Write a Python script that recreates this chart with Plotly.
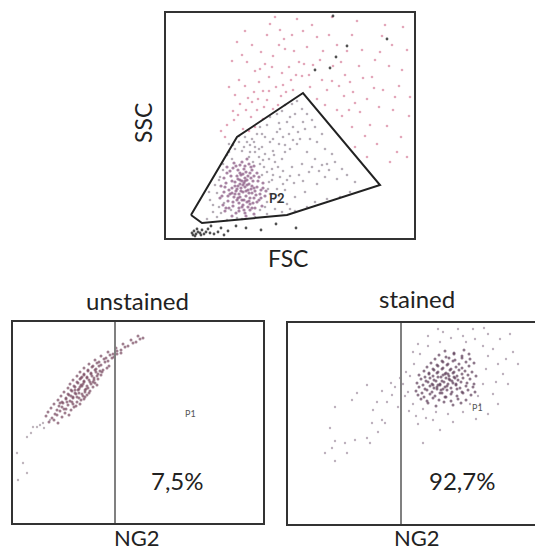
import plotly.graph_objects as go

# ---------------- data (panel units) ----------------
# Top panel: FSC vs SSC
gate_x = [25, 71, 137, 214, 121, 36, 25]
gate_y = [23, 101, 145, 53, 23, 15, 23]

core_top = [(77,46),(75,50),(80,42),(73,44),(82,48),(78,55),(72,52),(84,40),(76,38),(79,60),(70,47),(86,45),(74,58),(81,36),(68,41),(83,54),(77,33),(71,38),(88,50),(75,63),(80,66),(66,50),(85,60),(73,30),(90,43),(78,28),(69,56),(87,35),(64,44),(82,62),
            (62,37),(60,55),(58,46),(65,62),(67,70),(72,68),(79,72),(86,68),(92,57),(95,48),(93,38),(89,30),(84,28),(70,25),(63,30),(57,33),(55,52),(61,65),(68,75),(76,76),(83,74),(91,65),(97,55),(99,42),(96,32),(88,24),(80,22),(66,22),(59,27),(54,40),
            (74,41),(79,51),(76,57),(83,45),(71,49),(81,58),(86,52),(73,35),(78,38),(69,44),(84,34),(75,47),(80,47),(77,53),(72,59),(87,57),(67,36),(82,31),(74,65),(89,47),
            (63,48),(66,57),(71,62),(77,64),(84,65),(88,62),(91,51),(94,44),(91,36),(86,30),(79,25),(73,27),(67,32),(62,42),(59,51),(64,67),(70,72),(78,69),(85,71),(93,61),
            (97,50),(95,40),(58,60),(61,71),(74,73),(81,79),(88,72),(100,47),(56,42),(60,30),(76,31),(83,37),(69,52),(74,54),(85,49),(79,57),(72,40),(66,45),(88,40),(81,53)]
top_core_x = [p[0] for p in core_top]
top_core_y = [p[1] for p in core_top]

gate_pts = [(44,38),(49,53),(53,31),(47,26),(57,68),(61,83),(63,94),(69,89),(76,87),(81,96),(86,99),(91,104),(94,111),(101,113),(104,121),(111,124),(116,127),(119,133),(126,134),(131,137),
            (99,101),(96,91),(104,96),(111,106),(114,109),(121,116),(124,121),(129,124),(136,129),(141,124),(146,118),(149,111),(156,104),(139,109),(134,99),(131,94),(124,89),(119,86),(116,79),(109,76),
            (106,69),(101,66),(94,74),(99,84),(107,87),(113,94),(117,101),(123,104),(127,111),(144,99),(151,96),(159,89),(166,84),(169,76),(176,69),(161,74),(149,79),(141,86),(136,74),(126,71),
            (114,61),(111,49),(104,44),(101,36),(109,29),(121,34),(129,41),(139,46),(151,54),(159,61),(171,59),(181,63),(189,56),(184,46),(174,41),(161,39),(149,36),(141,31),(129,27),(116,26),
            (101,24),(89,21),(76,19),(61,18),(51,21),(41,19),(54,61),(66,79),(84,86),(93,81),(87,76),(96,63),(103,56),(107,63),(117,67),(98,71),(89,91),(83,81),
            (51,45),(53,58),(57,74),(63,86),(67,93),(73,96),(78,91),(84,93),(89,86),(93,89),(97,78),(103,79),(108,83),(112,71),(106,58),(102,49),(108,39),(113,42),(117,54),(121,58),
            (119,48),(124,62),(128,55),(133,63),(137,57),(143,66),(146,71),(153,67),(156,73),(163,68),(107,99),(113,115),(96,104),(88,96),(79,101),(73,102),(127,98),(132,106),(137,116),(119,93),
            (58,35),(47,33),(43,46),(55,25),(65,28),(71,20),(94,28),(99,31),(112,36),(124,29)]
top_gate_x = [p[0] for p in gate_pts]
top_gate_y = [p[1] for p in gate_pts]

pink_pts = [(61,113),(67,127),(69,143),(63,151),(73,158),(66,177),(76,183),(71,196),(79,207),(86,193),(81,176),(89,167),(79,152),(74,134),(85,121),(91,128),(97,147),(93,156),(99,174),(95,186),
            (101,203),(104,214),(109,221),(113,193),(107,182),(103,161),(101,138),(97,119),(107,129),(115,142),(117,153),(123,171),(119,189),(126,203),(131,219),(127,148),(136,162),(133,176),(141,191),(137,207),
            (146,213),(151,201),(147,173),(143,163),(156,158),(157,187),(163,203),(166,221),(171,193),(167,172),(161,148),(173,152),(179,163),(181,187),(186,203),(191,217),(196,188),(193,172),(187,146),(183,128),
            (176,122),(186,111),(194,126),(201,139),(206,161),(209,178),(216,202),(219,213),(226,193),(223,172),(217,148),(213,131),(204,113),(199,102),(211,94),(221,112),(227,128),(233,152),(236,168),(241,188),
            (237,211),(243,122),(235,101),(231,86),(224,76),(241,81),(244,141),(151,139),(144,151),(159,133),(171,128),(201,81),(189,91),(83,107),(89,111),(77,109),(114,208),(59,101),(55,107),
            (68,118),(72,123),(80,128),(86,136),(92,139),(98,131),(103,147),(110,151),(112,133),(120,146),(125,158),(130,163),(88,146),(82,140),(94,169),(106,171),(116,165),(138,174),(118,199),(128,187),
            (154,178),(175,176),(184,156),(197,160),(208,150),(214,186),(229,141),(189,135),(178,142),(166,157)]
top_pink_x = [p[0] for p in pink_pts]
top_pink_y = [p[1] for p in pink_pts]

dark_pts = [(221,199),(170,181),(149,168),(164,170),(181,192),(167,222),
            (26,5),(28,7),(30,4),(32,6),(27,3),(34,5),(36,8),(38,4),(40,6),(31,9),(29,2),(35,3),(44,5),(48,4),(52,6),(58,3),(62,7),(42,9),(45,12),(55,10),(70,12),(80,10),(95,8),(110,14),(130,10)]
top_dark_x = [p[0] for p in dark_pts]
top_dark_y = [p[1] for p in dark_pts]

# Bottom-left panel: unstained
uns_pts = [(36,101),(41,103),(45,100),
           (33,107),(39,105),(44,108),(49,106),
           (35,111),(42,109),(47,112),(52,110),(56,108),
           (38,115),(44,113),(49,116),(53,114),(58,113),(61,116),
           (41,119),(46,117),(50,120),(55,118),(59,121),(63,117),(67,119),
           (45,123),(49,121),(53,124),(57,122),(60,125),(64,121),(68,123),(71,124),
           (48,127),(53,125),(56,128),(60,126),(63,129),(66,125),(70,127),(74,128),
           (51,131),(55,129),(59,132),(62,130),(65,133),(69,129),(72,131),(77,132),
           (55,135),(58,133),(62,136),(66,134),(69,137),(72,133),(75,135),(80,136),
           (57,139),(61,137),(65,140),(68,138),(71,141),(74,137),(78,139),(82,140),
           (60,143),(64,141),(67,144),(71,142),(74,145),(77,141),(81,143),(85,144),
           (64,147),(68,145),(71,148),(74,146),(78,149),(81,145),(84,147),(88,148),
           (67,151),(71,149),(75,152),(78,150),(82,153),(85,149),(89,151),
           (71,155),(75,153),(79,156),(83,154),(86,157),(90,153),(94,155),
           (76,159),(80,157),(84,160),(88,158),(92,161),(96,157),
           (82,163),(86,161),(91,164),(95,162),(99,165),
           (88,167),(93,165),(97,168),(101,166),(104,169),
           (95,171),(100,169),(104,172),(108,170),
           (103,175),(108,173),(112,176),
           (110,179),(115,177),(120,180),
           (118,183),(123,181),(127,184),
           (125,187),(130,185),
           (58,127),(62,133),(66,130),(70,139),(73,134),(76,143),(79,147),(83,151),(87,152),(67,136),(64,126),(60,119),(54,121),(51,114),(47,120),(72,126),(76,130),(80,141),(84,138),(69,146)]
uns_x = [p[0] for p in uns_pts]
uns_y = [p[1] for p in uns_pts]
uns_tail = [(20,96),(14,86),(4,70),(10,60),(14,50),(5,43),(24,96),(37,103),(30,100),(18,90),(27,98),(31,95)]
uns_tail_x = [p[0] for p in uns_tail]
uns_tail_y = [p[1] for p in uns_tail]

# Bottom-right panel: stained
st_pts = [(140,121),(148,118),(156,122),(165,119),(173,121),
          (133,125),(139,123),(145,126),(151,124),(157,127),(163,123),(170,125),(178,124),
          (130,129),(136,127),(142,130),(147,128),(152,131),(158,127),(163,130),(169,128),(175,131),(183,129),
          (128,133),(134,131),(139,134),(144,132),(149,135),(154,131),(159,134),(164,132),(169,135),(174,132),(180,134),(187,132),
          (131,137),(137,135),(142,138),(146,136),(150,139),(155,135),(159,138),(163,136),(168,139),(172,136),(178,138),(185,137),
          (129,141),(135,139),(140,142),(144,140),(148,143),(152,139),(156,142),(160,140),(164,143),(168,140),(173,142),(179,141),(186,140),
          (133,145),(138,143),(142,146),(146,144),(150,147),(154,143),(158,146),(162,144),(166,147),(170,144),(175,146),(182,145),
          (131,149),(137,147),(141,150),(145,148),(149,151),(153,147),(157,150),(161,148),(165,151),(169,148),(174,150),(180,149),(188,148),
          (136,153),(141,151),(146,154),(150,152),(154,155),(158,151),(162,154),(166,152),(171,154),(177,153),(184,152),
          (139,157),(145,155),(150,158),(155,156),(159,159),(163,155),(168,157),(174,156),(181,158),
          (143,161),(149,159),(155,162),(160,160),(165,163),(171,160),(178,162),(186,161),
          (147,165),(154,163),(161,166),(167,164),(174,166),(182,165),
          (151,169),(158,167),(166,170),(174,168),(181,170),
          (157,173),(166,171),(176,174),
          (152,140),(157,137),(161,145),(155,149),(149,137),(165,141),(160,150),(153,134),(167,146),(145,139)]
st_x = [p[0] for p in st_pts]
st_y = [p[1] for p in st_pts]
st_halo = [(125,120),(120,132),(122,148),(126,160),(132,170),(140,178),(152,182),(163,186),(175,188),(187,185),(195,178),(200,168),(198,155),(195,140),(190,128),(182,120),(175,112),(160,110),(148,112),(135,115),
           (128,108),(205,175),(210,160),(215,150),(220,140),(212,185),(200,190),(185,195),(170,195),(155,192),(140,188),(130,180),(192,120),(205,130),(218,165),(225,172),(208,142),(125,172),(118,152),(145,104),
           (165,102),(150,195),(178,182),(196,196),(210,120),(130,100),(115,140),(188,105),(200,110),(222,190),(230,160),
           (79,139),(69,131),(64,124),(47,117),(85,114),(84,101),(94,104),(97,101),(90,92),(42,96),(47,83),(57,81),(67,84),(79,86),(82,81),(44,76),(37,71),(59,71),(47,63),
           (89,122),(99,122),(104,129),(110,117),(107,137),(135,81),(152,94),(117,128),(112,146),(103,141),(94,133),(121,113),(138,106)]
st_halo_x = [p[0] for p in st_halo]
st_halo_y = [p[1] for p in st_halo]

gate_left = 102
gate_right = 113

# ---------------- figure ----------------
W, H = 535, 551
fig = go.Figure()
FONT = "Lato, 'Open Sans', sans-serif"

def sc(x, y, xa, ya, color, size=3, op=0.75):
    fig.add_trace(go.Scatter(x=x, y=y, xaxis=xa, yaxis=ya, mode="markers",
                             marker=dict(color=color, size=size, opacity=op, line=dict(width=0)),
                             showlegend=False, hoverinfo="skip"))

# top
sc(top_pink_x, top_pink_y, "x", "y", "#d98aa3", 2.6, 0.75)
sc(top_gate_x, top_gate_y, "x", "y", "#8f8290", 2.6, 0.65)
sc(top_core_x, top_core_y, "x", "y", "#83507c", 3.2, 0.7)
sc(top_dark_x, top_dark_y, "x", "y", "#333333", 2.8, 0.85)
fig.add_trace(go.Scatter(x=gate_x, y=gate_y, xaxis="x", yaxis="y", mode="lines",
                         line=dict(color="#222222", width=2), showlegend=False, hoverinfo="skip"))
# bottom-left
sc(uns_tail_x, uns_tail_y, "x2", "y2", "#a394a0", 2.4, 0.7)
sc(uns_x, uns_y, "x2", "y2", "#774860", 3.0, 0.7)
# bottom-right
sc(st_halo_x, st_halo_y, "x3", "y3", "#a08fa0", 2.4, 0.7)
sc(st_x, st_y, "x3", "y3", "#5e3f5a", 3.0, 0.7)

fig.add_shape(type="line", xref="x2", yref="y2 domain", x0=gate_left, x1=gate_left, y0=0, y1=1,
              line=dict(color="#808080", width=2))
fig.add_shape(type="line", xref="x3", yref="y3 domain", x0=gate_right, x1=gate_right, y0=0, y1=1,
              line=dict(color="#808080", width=2))

ax = dict(showgrid=False, zeroline=False, showticklabels=False, ticks="",
          showline=True, linecolor="#333333", linewidth=2)
fig.update_layout(
    width=W, height=H, margin=dict(l=0, r=0, t=0, b=0),
    paper_bgcolor="white", plot_bgcolor="white",
    xaxis=dict(ax, domain=[166/W, 414/W], range=[0, 248], mirror=True),
    yaxis=dict(ax, domain=[1-238/H, 1-13/H], range=[0, 225], mirror=True),
    xaxis2=dict(ax, domain=[13/W, 263/W], range=[0, 250], mirror=True, anchor="y2"),
    yaxis2=dict(ax, domain=[1-523/H, 1-322/H], range=[0, 201], mirror=True, anchor="x2"),
    xaxis3=dict(ax, domain=[288/W, 1.0], range=[0, 247], mirror=True, anchor="y3"),
    yaxis3=dict(ax, domain=[1-524/H, 1-323/H], range=[0, 201], mirror=False, anchor="x3"),
)

def txt(x, y, s, size, xref="paper", yref="paper", angle=0, bold=False, color="#222222"):
    fig.add_annotation(x=x, y=y, xref=xref, yref=yref, text=("<b>%s</b>" % s) if bold else s,
                       showarrow=False, textangle=angle,
                       font=dict(family=FONT, size=size, color=color),
                       xanchor="center", yanchor="middle")

txt(143/W, 1-123/H, "SSC", 23, angle=-90)
txt(288/W, 1-258/H, "FSC", 23)
txt(137/W, 1-300/H, "unstained", 24)
txt(417/W, 1-298/H, "stained", 24)
txt(137/W, 1-537/H, "NG2", 22)
txt(417/W, 1-537/H, "NG2", 22)
txt(111, 40, "P2", 13, "x", "y", bold=True, color="#333333")
txt(177, 110, "P1", 9, "x2", "y2", color="#555555")
txt(189, 117, "P1", 9, "x3", "y3", color="#555555")
txt(164, 43, "7,5%", 24, "x2", "y2")
txt(174, 44, "92,7%", 24, "x3", "y3")

fig.write_html("out.html")
